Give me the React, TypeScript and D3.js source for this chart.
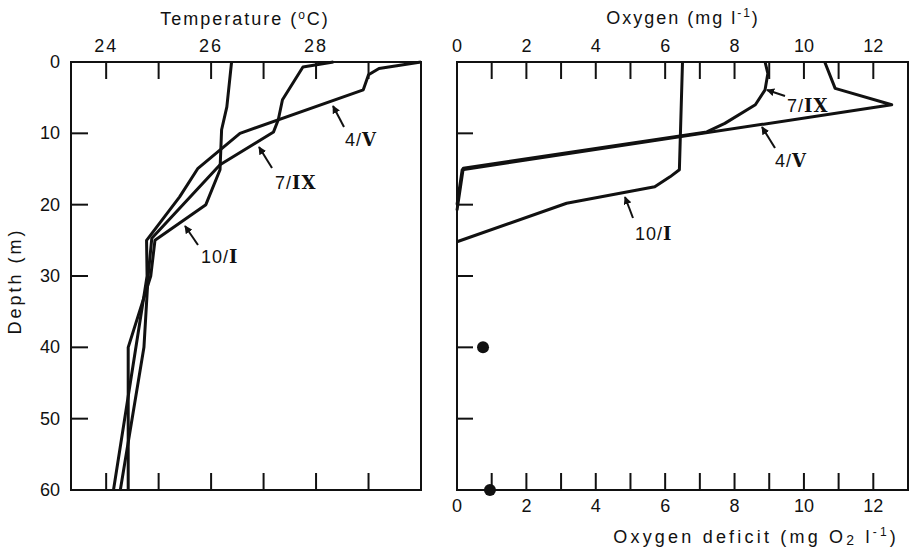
import * as d3 from "d3";

// temperature profiles (depth m, temp °C)
const t10IDepth = [0, 6.3, 9.5, 15.1, 20, 25, 30, 40, 60];
const t10ITemp = [26.39, 26.3, 26.2, 26.17, 25.9, 24.93, 24.85, 24.42, 24.42];
const t7IXDepth = [0, 0.7, 5.3, 8.1, 9.8, 14.4, 24.7, 30, 40, 60];
const t7IXTemp = [28.33, 27.75, 27.36, 27.28, 27.19, 26.17, 24.87, 24.8, 24.72, 24.27];
const t4VDepth = [0, 0.9, 1.8, 3.9, 10, 14.9, 18.9, 25, 30, 60];
const t4VTemp = [30.0, 29.2, 29.0, 28.9, 26.55, 25.75, 25.4, 24.77, 24.78, 24.14];

// oxygen profiles (depth m, mg/l)
const o10IDepth = [0, 15.1, 16.1, 17.5, 19.8, 25.2];
const o10IOxy = [6.5, 6.41, 6.14, 5.7, 3.16, 0];
const o7IXDepth = [0, 1.6, 3.9, 6, 8.6, 9.8, 14.9, 20.8];
const o7IXOxy = [8.88, 8.96, 8.88, 8.6, 7.72, 7.2, 0.18, 0];
const o4VDepth = [0, 3.7, 6, 15.1, 20];
const o4VOxy = [10.6, 10.9, 12.53, 0.15, 0];

// oxygen deficit points
const deficitDepth = [40, 60];
const deficitValue = [0.75, 0.95];

const tempTicks = [24, 25, 26, 27, 28, 29];
const tempLabels = [24, 26, 28];
const oxyTicks = [1, 2, 3, 4, 5, 6, 7, 8, 9, 10, 11, 12];
const oxyLabels = [0, 2, 4, 6, 8, 10, 12];
const depthTicks = [0, 10, 20, 30, 40, 50, 60];

const W = 910;
const H = 549;
const FONT = "'Liberation Sans', Arial, sans-serif";
const ROMAN = "'DejaVu Serif', serif";

const tempX = d3.scaleLinear().domain([23.33, 30]).range([71, 421]);
const oxyX = d3.scaleLinear().domain([0, 13]).range([457, 908]);
const depthY = d3.scaleLinear().domain([0, 60]).range([62, 490]);

const zip = (xs: number[], ys: number[]) => xs.map((x, i) => [x, ys[i]] as [number, number]);

function Profile({ vals, depths, x }: { vals: number[]; depths: number[]; x: d3.ScaleLinear<number, number> }) {
  const line = d3.line<[number, number]>()
    .x((d) => x(d[0]))
    .y((d) => depthY(d[1]));
  return <path d={line(zip(vals, depths)) || ""} fill="none" stroke="#111" strokeWidth={3} strokeLinejoin="round" />;
}

function Label({ x, y, num, roman, tip, tail }: { x: number; y: number; num: string; roman: string; tip: [number, number]; tail: [number, number] }) {
  return (
    <g>
      <line x1={tail[0]} y1={tail[1]} x2={tip[0]} y2={tip[1]} stroke="#111" strokeWidth={2} markerEnd="url(#arr)" />
      <text x={x} y={y} fontSize={18} fontFamily={FONT} letterSpacing={1} fill="#111">
        {num}/<tspan fontFamily={ROMAN} fontWeight="bold">{roman}</tspan>
      </text>
    </g>
  );
}

export default function App() {
  const top = depthY(0);
  const bot = depthY(60);
  const tick = 17;
  return (
    <svg width={W} height={H} style={{ position: "absolute", left: 0, top: 0, background: "#fff" }}>
      <defs>
        <marker id="arr" viewBox="0 0 10 10" refX="9" refY="5" markerWidth="4" markerHeight="4" orient="auto">
          <path d="M0,0 L10,5 L0,10 z" fill="#111" />
        </marker>
      </defs>

      {/* left panel frame */}
      <rect x={tempX(23.33)} y={top} width={tempX(30) - tempX(23.33)} height={bot - top} fill="none" stroke="#111" strokeWidth={2} />
      {tempTicks.map((t) => (
        <g key={t}>
          <line x1={tempX(t)} x2={tempX(t)} y1={top} y2={top + tick} stroke="#111" strokeWidth={2} />
          <line x1={tempX(t)} x2={tempX(t)} y1={bot} y2={bot - tick} stroke="#111" strokeWidth={2} />
        </g>
      ))}
      {tempLabels.map((t) => (
        <text key={t} x={tempX(t)} y={52} textAnchor="middle" fontSize={18} fontFamily={FONT} letterSpacing={2} fill="#111">{t}</text>
      ))}
      {depthTicks.map((d) => (
        <g key={d}>
          {d > 0 && d < 60 && <line x1={tempX(23.33)} x2={tempX(23.33) + tick} y1={depthY(d)} y2={depthY(d)} stroke="#111" strokeWidth={2} />}
          <text x={60} y={depthY(d) + 6} textAnchor="end" fontSize={18} fontFamily={FONT} fill="#111">{d}</text>
        </g>
      ))}
      <text x={245} y={25} textAnchor="middle" fontSize={18} fontFamily={FONT} letterSpacing={2} fill="#111">
        Temperature (<tspan fontSize={12} dy={-6}>o</tspan><tspan dy={6}>C)</tspan>
      </text>
      <text transform={`translate(21,${(top + bot) / 2 + 5}) rotate(-90)`} textAnchor="middle" fontSize={18} fontFamily={FONT} letterSpacing={3} fill="#111">
        Depth (m)
      </text>

      <Profile vals={t10ITemp} depths={t10IDepth} x={tempX} />
      <Profile vals={t7IXTemp} depths={t7IXDepth} x={tempX} />
      <Profile vals={t4VTemp} depths={t4VDepth} x={tempX} />

      <Label x={345} y={146} num="4" roman="V" tip={[333, 106]} tail={[344, 127]} />
      <Label x={275} y={189} num="7" roman="IX" tip={[259, 147]} tail={[272, 168]} />
      <Label x={201} y={263} num="10" roman="I" tip={[185, 226]} tail={[198, 245]} />

      {/* right panel frame */}
      <rect x={oxyX(0)} y={top} width={oxyX(13) - oxyX(0)} height={bot - top} fill="none" stroke="#111" strokeWidth={2} />
      {oxyTicks.map((o) => (
        <g key={o}>
          <line x1={oxyX(o)} x2={oxyX(o)} y1={top} y2={top + tick} stroke="#111" strokeWidth={2} />
          <line x1={oxyX(o)} x2={oxyX(o)} y1={bot} y2={bot - tick} stroke="#111" strokeWidth={2} />
        </g>
      ))}
      {oxyLabels.map((o) => (
        <g key={o}>
          <text x={oxyX(o)} y={52} textAnchor="middle" fontSize={18} fontFamily={FONT} fill="#111">{o}</text>
          <text x={oxyX(o)} y={512} textAnchor="middle" fontSize={18} fontFamily={FONT} fill="#111">{o}</text>
        </g>
      ))}
      {depthTicks.filter((d) => d > 0 && d < 60).map((d) => (
        <line key={d} x1={oxyX(0)} x2={oxyX(0) + tick - 1} y1={depthY(d)} y2={depthY(d)} stroke="#111" strokeWidth={2} />
      ))}
      <text x={683} y={24} textAnchor="middle" fontSize={18} fontFamily={FONT} letterSpacing={2} fill="#111">
        Oxygen (mg l<tspan fontSize={12} dy={-7}>-1</tspan><tspan dy={7}>)</tspan>
      </text>
      <text x={899} y={543} textAnchor="end" fontSize={18} fontFamily={FONT} letterSpacing={3.2} fill="#111">
        Oxygen deficit  (mg O<tspan fontSize={14} dy={2}>2</tspan><tspan dy={-2}> l</tspan><tspan fontSize={12} dy={-7}>-1</tspan><tspan dy={7}>)</tspan>
      </text>

      <Profile vals={o10IOxy} depths={o10IDepth} x={oxyX} />
      <Profile vals={o7IXOxy} depths={o7IXDepth} x={oxyX} />
      <Profile vals={o4VOxy} depths={o4VDepth} x={oxyX} />

      {deficitValue.map((v, i) => (
        <circle key={i} cx={oxyX(v)} cy={depthY(deficitDepth[i])} r={6} fill="#111" />
      ))}

      <Label x={787} y={112} num="7" roman="IX" tip={[767, 90]} tail={[785, 96]} />
      <Label x={775} y={167} num="4" roman="V" tip={[762, 127]} tail={[775, 148]} />
      <Label x={635} y={240} num="10" roman="I" tip={[625, 197]} tail={[633, 218]} />
    </svg>
  );
}
